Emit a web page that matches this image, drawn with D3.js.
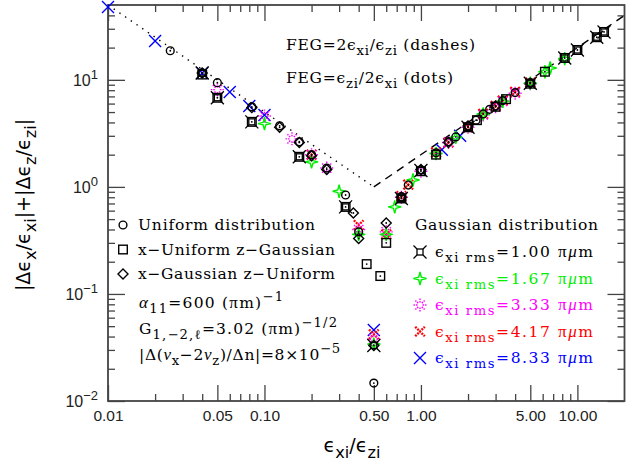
<!DOCTYPE html>
<html><head><meta charset="utf-8">
<script src="https://cdn.jsdelivr.net/npm/d3@7"></script>
<style>body{margin:0;background:#fff}svg{display:block}</style></head>
<body><svg id="c" width="641" height="470"></svg>
<script>
// ---------- data ----------
const xMajorTicks=[0.01,0.05,0.1,0.5,1,5,10];
const xTickLabels=["0.01","0.05","0.10","0.50","1.00","5.00","10.00"];
const yMajorTicks=[0.01,0.1,1,10];
const yTickExponents=["−2","−1","0","1"];
const fegDots=[[0.01,50],[0.5,1]];
const fegDashes=[[0.5,1],[20,40]];
// Uniform distribution (circles)
const uniformPts=[[0.025,18.7],[0.04,11.6],[0.05,9.4],[0.083,5.6],[0.125,3.72],[0.167,2.64],[0.2,2.0],[0.25,1.5],[0.33,0.84],[0.4,0.38],[0.5,0.0147],[0.75,0.81],[0.83,1.04],[1.0,1.44],[1.25,2.08],[1.5,2.64],[1.67,2.93],[2.0,3.7],[2.25,4.2],[2.5,4.8],[2.75,5.3],[3.0,5.7],[3.33,6.4],[4.0,7.6],[5.0,9.4]];
// x-Uniform z-Gaussian (squares)
const xUzGPts=[[0.04,11.2],[0.05,6.8],[0.083,4.05],[0.167,1.91],[0.33,0.65],[0.45,0.19],[0.55,0.147],[0.6,0.30],[0.75,0.78],[1.0,1.4],[1.25,2.0],[2.0,3.6],[2.28,4.2],[3.0,5.6],[3.5,6.6],[5.0,9.2],[6.2,11.9],[8.3,16],[10,19],[13.3,25],[14.8,28]];
// x-Gaussian z-Uniform (diamonds)
const xGzUPts=[[0.04,11.6],[0.083,5.5],[0.125,3.6],[0.167,2.6],[0.2,1.95],[0.25,1.45],[0.37,0.57],[0.4,0.33],[0.5,0.033],[0.6,0.46],[0.75,0.8],[1.0,1.45],[1.5,2.6],[2.0,3.7],[3.0,5.7],[5.0,9.3]];
// Gaussian distribution, by rms
const rms100=[[0.04,11.6],[0.05,6.8],[0.083,4.05],[0.167,1.91],[0.33,0.65],[0.5,0.033],[0.75,0.78],[1.0,1.42],[2.0,3.6],[5.0,9.3],[8.3,16],[10,19],[13.3,25],[14.8,28]];
const rms167=[[0.1,3.9],[0.2,1.71],[0.3,0.91],[0.4,0.36],[0.5,0.034],[0.6,0.36],[0.68,0.65],[0.89,1.16],[1.25,2.05],[1.67,2.9],[2.5,4.8],[3.33,6.3],[5.0,9.3],[6.2,11.9],[6.7,12.9],[8.3,15.8]];
const rms333=[[0.05,8.1],[0.1,4.6],[0.15,2.81],[0.2,2.0],[0.25,1.5],[0.4,0.4],[0.5,0.038],[0.6,0.38],[0.75,0.8],[1.0,1.4],[1.5,2.6],[2.0,3.6],[2.5,4.7],[3.0,5.6],[3.33,6.3],[4.0,7.5],[5.0,9.2]];
const rms417=[[0.2,2.0],[0.4,0.44],[0.5,0.042],[0.6,0.36],[0.75,0.82],[0.83,1.05],[1.25,2.1],[1.5,2.6],[2.0,3.6],[2.5,4.8],[3.0,5.7],[3.33,6.4],[4.0,7.7],[5.0,9.4]];
const rms833=[[0.01,48],[0.02,23.1],[0.04,11.6],[0.06,7.7],[0.08,5.7],[0.1,4.7],[0.5,0.046],[1.36,2.22],[1.78,3.0]];
const rmsLabels=["1.00","1.67","3.33","4.17","8.33"];
const rmsColors=["#000000","#00ee00","#ff00ff","#ff0000","#0000ff"];

// ---------- setup ----------
const svg=d3.select("#c");
const x=d3.scaleLog().domain([0.01,20]).range([108,624.5]);
const y=d3.scaleLog().domain([0.01,50]).range([401,5]);
const X0=108,X1=624.5,Y0=5,Y1=401;
const serif="'DejaVu Serif', serif", sans="'Liberation Sans', Arial, sans-serif";
const greek="'Liberation Serif', serif";
const axisCol="#444";

const xMinor=[],yMinor=[];
[0.01,0.1,1,10].forEach(d=>{for(let k=2;k<=9;k++){const v=d*k;if(k!==5&&v<20)xMinor.push(v);}});
[0.01,0.1,1,10].forEach(d=>{for(let k=2;k<=9;k++){const v=d*k;if(v<50)yMinor.push(v);}});

function styleAxis(g){g.select(".domain").remove();g.selectAll("line").attr("stroke",axisCol).attr("stroke-width",1.3);}
svg.append("g").attr("transform",`translate(0,${Y1})`).call(d3.axisBottom(x).tickValues(xMinor).tickSizeInner(-7).tickSizeOuter(0).tickFormat("")).call(styleAxis);
svg.append("g").attr("transform",`translate(0,${Y1})`).call(d3.axisBottom(x).tickValues(xMajorTicks).tickSizeInner(-16).tickSizeOuter(0).tickPadding(9).tickFormat((d,i)=>xTickLabels[i])).call(styleAxis)
  .selectAll("text").attr("font-family",sans).attr("font-size",15.5).attr("fill","#222");
svg.append("g").attr("transform",`translate(0,${Y0})`).call(d3.axisTop(x).tickValues(xMinor).tickSizeInner(-7).tickSizeOuter(0).tickFormat("")).call(styleAxis);
svg.append("g").attr("transform",`translate(0,${Y0})`).call(d3.axisTop(x).tickValues(xMajorTicks).tickSizeInner(-16).tickSizeOuter(0).tickFormat("")).call(styleAxis);
svg.append("g").attr("transform",`translate(${X0},0)`).call(d3.axisLeft(y).tickValues(yMinor).tickSizeInner(-7).tickSizeOuter(0).tickFormat("")).call(styleAxis);
svg.append("g").attr("transform",`translate(${X0},0)`).call(d3.axisLeft(y).tickValues(yMajorTicks).tickSizeInner(-17).tickSizeOuter(0).tickFormat("")).call(styleAxis);
svg.append("g").attr("transform",`translate(${X1},0)`).call(d3.axisRight(y).tickValues(yMinor).tickSizeInner(-7).tickSizeOuter(0).tickFormat("")).call(styleAxis);
svg.append("g").attr("transform",`translate(${X1},0)`).call(d3.axisRight(y).tickValues(yMajorTicks).tickSizeInner(-17).tickSizeOuter(0).tickFormat("")).call(styleAxis);
yMajorTicks.forEach((v,i)=>{
  const t=svg.append("text").attr("x",X0-10).attr("y",y(v)+6).attr("text-anchor","end").attr("font-family",sans).attr("font-size",16).attr("fill","#222");
  t.append("tspan").text("10");
  t.append("tspan").attr("dy",-7).attr("font-size",13).text(yTickExponents[i]);
});
svg.append("rect").attr("x",X0).attr("y",Y0).attr("width",X1-X0).attr("height",Y1-Y0).attr("fill","none").attr("stroke",axisCol).attr("stroke-width",1.8);

const line=d3.line().x(d=>x(d[0])).y(d=>y(d[1]));
svg.append("path").attr("d",line(fegDots)).attr("fill","none").attr("stroke","#000").attr("stroke-width",1.4).attr("stroke-dasharray","1.4,5.5");
svg.append("path").attr("d",line(fegDashes)).attr("fill","none").attr("stroke","#000").attr("stroke-width",1.4).attr("stroke-dasharray","8,6");

// ---------- markers ----------
function drawMarker(g,kind,color,cx,cy,center){
  const m=g.append("g").attr("transform",`translate(${cx},${cy})`).attr("fill","none").attr("stroke",color);
  if(kind==="circle"){m.append("circle").attr("r",3.9).attr("stroke-width",1.4);}
  else if(kind==="square"){m.append("rect").attr("x",-4.3).attr("y",-4.3).attr("width",8.6).attr("height",8.6).attr("stroke-width",1.4);}
  else if(kind==="diamond"){m.append("path").attr("d","M0,-5L5,0L0,5L-5,0Z").attr("stroke-width",1.4);}
  else if(kind==="r100"){m.append("rect").attr("x",-3).attr("y",-3).attr("width",6).attr("height",6).attr("stroke-width",1.3);
    m.append("path").attr("d","M3,3L6.5,6.5M-3,3L-6.5,6.5M3,-3L6.5,-6.5M-3,-3L-6.5,-6.5").attr("stroke-width",1.3);}
  else if(kind==="r167"){m.append("path").attr("d","M0,-6.5L1.3,-1.3L6.5,0L1.3,1.3L0,6.5L-1.3,1.3L-6.5,0L-1.3,-1.3Z").attr("stroke-width",1.4);}
  else if(kind==="r333"){let d="";for(let k=0;k<8;k++){const a=k*Math.PI/4;d+=`M${2.5*Math.cos(a)},${2.5*Math.sin(a)}L${6.5*Math.cos(a)},${6.5*Math.sin(a)}`;}
    m.append("path").attr("d",d).attr("stroke-width",1.4).attr("stroke-dasharray","1.6,1");}
  else if(kind==="r417"){m.append("path").attr("d","M-4.8,-4.8L4.8,4.8M-4.8,4.8L4.8,-4.8").attr("stroke-width",2.3).attr("stroke-dasharray","2,1");}
  else if(kind==="r833"){m.append("path").attr("d","M-6,-6L6,6M-6,6L6,-6").attr("stroke-width",1.4);}
  if(center)m.append("circle").attr("r",0.9).attr("fill",color).attr("stroke","none");
}
const pg=svg.append("g");
const rmsSeries=[rms833,rms417,rms333,rms167];
const rmsKinds=["r833","r417","r333","r167"];
const rmsCols=[rmsColors[4],rmsColors[3],rmsColors[2],rmsColors[1]];
rmsSeries.forEach((s,i)=>s.forEach(d=>drawMarker(pg,rmsKinds[i],rmsCols[i],x(d[0]),y(d[1]),false)));
uniformPts.forEach(d=>drawMarker(pg,"circle","#000",x(d[0]),y(d[1]),true));
xUzGPts.forEach(d=>drawMarker(pg,"square","#000",x(d[0]),y(d[1]),true));
xGzUPts.forEach(d=>drawMarker(pg,"diamond","#000",x(d[0]),y(d[1]),true));
rms100.forEach(d=>drawMarker(pg,"r100","#000",x(d[0]),y(d[1]),false));

// ---------- rich text helper ----------
// seg: [text, "sub"|"sup"|null, fontOverride, italic]
function rich(xp,yp,segs,opt){
  const t=svg.append("text").attr("x",xp).attr("y",yp).attr("font-family",opt.font||serif).attr("font-size",opt.size).attr("fill",opt.color||"#000");
  if(opt.anchor)t.attr("text-anchor",opt.anchor);
  if(opt.rotate)t.attr("transform",`rotate(${opt.rotate},${xp},${yp})`);
  let off=0;
  segs.forEach(s=>{
    const target=s[1]==="sub"?opt.size*0.33:(s[1]==="sup"?-opt.size*0.45:0);
    const ts=t.append("tspan").attr("dy",target-off).text(s[0]);
    if(s[1])ts.attr("font-size",opt.size*0.85);
    if(s[2])ts.attr("font-family",s[2]).attr("font-size",(s[1]?opt.size*0.85:opt.size)*1.1);
    if(s[3])ts.attr("font-style","italic");
    off=target;
  });
  if(opt.width){t.attr("textLength",opt.width).attr("lengthAdjust","spacing");}
  return t;
}
const fs=15.5;
const E="ϵ";
rich(286,50,[["FEG=2"+E],["xi","sub"],["/"+E],["zi","sub"],[" (dashes)"]],{size:fs,width:189});
rich(286,83,[["FEG="+E],["zi","sub"],["/2"+E],["xi","sub"],[" (dots)"]],{size:fs,width:167});

const shapeLegend=[["circle","Uniform distribution",177],["square","x−Uniform z−Gaussian",197],["diamond","x−Gaussian z−Uniform",197]];
shapeLegend.forEach((d,i)=>{
  const yy=230+i*24.5;
  drawMarker(svg,d[0],"#000",123,yy-5,false);
  rich(138,yy,[[d[1]]],{size:fs,width:d[2]});
});
rich(139,308,[["α",null,greek,true],["11","sub"],["=600 ("],["π",null,greek],["m)"],["−1","sup"]],{size:fs,width:144});
rich(139,334,[["G"],["1,−2,ℓ","sub"],["=3.02 ("],["π",null,greek],["m)"],["−1/2","sup"]],{size:fs,width:198});
rich(139,360,[["|Δ("],["ν",null,greek,true],["x","sub"],["−2"],["ν",null,greek,true],["z","sub"],[")/Δn|=8×10"],["−5","sup"]],{size:fs,width:201});

rich(415,230,[["Gaussian distribution"]],{size:fs,width:183});
const rmsLegKinds=["r100","r167","r333","r417","r833"];
rmsLabels.forEach((lab,i)=>{
  const yy=257+i*26.5;
  drawMarker(svg,rmsLegKinds[i],rmsColors[i],420,yy-5,false);
  rich(435,yy,[[E],["xi rms","sub"],["="+lab+" "],["π",null,greek],["μ",null,greek,true],["m"]],{size:fs,color:rmsColors[i],width:158});
});

rich(352,452,[[E],["xi","sub"],["/"+E],["zi","sub"]],{size:19,anchor:"middle",font:"'DejaVu Sans', sans-serif"});
rich(30,205,[["|Δ"+E],["x","sub"],["/"+E],["xi","sub"],["|+|Δ"+E],["z","sub"],["/"+E],["zi","sub"],["|"]],{size:19,anchor:"middle",rotate:-90,font:"'DejaVu Sans', sans-serif"});
</script></body></html>
